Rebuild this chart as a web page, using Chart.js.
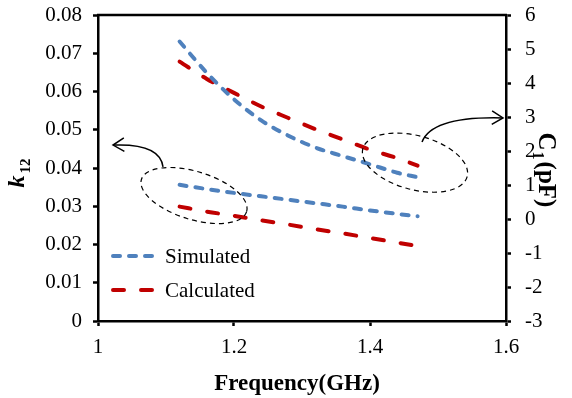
<!DOCTYPE html>
<html>
<head>
<meta charset="utf-8">
<script src="https://cdn.jsdelivr.net/npm/chart.js@4.4.1/dist/chart.umd.min.js"></script>
<style>
  html, body { margin: 0; padding: 0; background: #fff; }
  #wrap { width: 572px; height: 398px; }
</style>
</head>
<body>
<div id="wrap"><canvas id="chart"></canvas></div>
<script>
// values
var freq = [1.12, 1.16, 1.2, 1.24, 1.28, 1.32, 1.36, 1.4, 1.44, 1.47];
var k12Simulated = [0.0356, 0.0345, 0.0335, 0.0326, 0.0317, 0.0308, 0.0299, 0.0289, 0.0280, 0.0274];
var k12Calculated = [0.0299, 0.0286, 0.0275, 0.0263, 0.0252, 0.0240, 0.0229, 0.0217, 0.0205, 0.0196];
var c1Simulated = [5.22, 4.30, 3.52, 2.90, 2.45, 2.10, 1.85, 1.61, 1.36, 1.23];
var c1Calculated = [4.63, 4.12, 3.71, 3.31, 2.97, 2.64, 2.34, 2.04, 1.79, 1.57];

var xTickLabels = ['1', '1.2', '1.4', '1.6'];
var k12TickLabels = ['0', '0.01', '0.02', '0.03', '0.04', '0.05', '0.06', '0.07', '0.08'];
var c1TickLabels = ['-3', '-2', '-1', '0', '1', '2', '3', '4', '5', '6'];
var legendLabels = ['Simulated', 'Calculated'];

var BLUE = '#4F81BD';
var RED = '#C00000';
var SERIF = "'Liberation Serif', 'Times New Roman', serif";
var blueDash = [7, 9];
var redDash = [11, 17];

function pts(ys) {
  return freq.map(function (f, i) { return { x: f, y: ys[i] }; });
}

function line(data, color, dash, axis) {
  return {
    data: pts(data),
    yAxisID: axis,
    borderColor: color,
    backgroundColor: color,
    borderWidth: 4,
    borderDash: dash,
    borderCapStyle: 'round',
    pointRadius: 0,
    fill: false,
    cubicInterpolationMode: 'monotone'
  };
}

Chart.defaults.font.family = SERIF;
Chart.defaults.font.size = 21;
Chart.defaults.color = '#000';

// ellipses and arrows, anchored in data units (frequency, k12)
var ellipses = [
  { f: 1.1412, k: 0.0328, rx: 55, ry: 24, rot: 17 },
  { f: 1.4662, k: 0.0414, rx: 54, ry: 27, rot: 15 }
];
var arrows = [
  { from: [1.0956, 0.0403], ctrl: [1.0912, 0.0465], to: [1.0221, 0.0460] },
  { from: [1.4765, 0.0468], ctrl: [1.4912, 0.0536], to: [1.5956, 0.0531] }
];

var extras = {
  id: 'extras',
  afterDraw: function (chart) {
    var ctx = chart.ctx, a = chart.chartArea;
    var sx = chart.scales.x, sy = chart.scales.yL;
    ctx.save();

    // top frame line
    ctx.strokeStyle = '#000';
    ctx.lineWidth = 2.5;
    ctx.beginPath();
    ctx.moveTo(a.left - 1, a.top);
    ctx.lineTo(a.right + 1, a.top);
    ctx.stroke();

    // dashed ellipses
    ctx.lineWidth = 1.2;
    ctx.setLineDash([5, 4]);
    ellipses.forEach(function (e) {
      ctx.beginPath();
      ctx.ellipse(sx.getPixelForValue(e.f), sy.getPixelForValue(e.k), e.rx, e.ry, e.rot * Math.PI / 180, 0, Math.PI * 2);
      ctx.stroke();
    });

    // curved arrows
    ctx.setLineDash([]);
    ctx.lineWidth = 1.5;
    arrows.forEach(function (ar) {
      var x0 = sx.getPixelForValue(ar.from[0]), y0 = sy.getPixelForValue(ar.from[1]);
      var cx = sx.getPixelForValue(ar.ctrl[0]), cy = sy.getPixelForValue(ar.ctrl[1]);
      var x1 = sx.getPixelForValue(ar.to[0]), y1 = sy.getPixelForValue(ar.to[1]);
      ctx.beginPath();
      ctx.moveTo(x0, y0);
      ctx.quadraticCurveTo(cx, cy, x1, y1);
      ctx.stroke();
      var ang = Math.atan2(y1 - cy, x1 - cx);
      var L = 13, w = 0.55;
      ctx.beginPath();
      ctx.moveTo(x1 - L * Math.cos(ang - w), y1 - L * Math.sin(ang - w));
      ctx.lineTo(x1, y1);
      ctx.lineTo(x1 - L * Math.cos(ang + w), y1 - L * Math.sin(ang + w));
      ctx.stroke();
    });

    // legend
    var ds = chart.data.datasets;
    [0, 1].forEach(function (i) {
      var y = 256 + i * 34;
      ctx.strokeStyle = ds[i].borderColor;
      ctx.lineWidth = 4;
      ctx.lineCap = 'round';
      ctx.setLineDash(ds[i].borderDash);
      ctx.beginPath();
      ctx.moveTo(113, y);
      ctx.lineTo(i === 0 ? 156 : 166, y);
      ctx.stroke();
      ctx.setLineDash([]);
      ctx.fillStyle = '#000';
      ctx.font = '21px ' + SERIF;
      ctx.textBaseline = 'middle';
      ctx.textAlign = 'left';
      ctx.fillText(legendLabels[i], 165, y + 1);
    });

    // x title
    ctx.font = 'bold 23px ' + SERIF;
    ctx.textAlign = 'center';
    ctx.textBaseline = 'alphabetic';
    ctx.fillText('Frequency(GHz)', 297, 390);

    // left title k12
    ctx.save();
    ctx.translate(24, 173);
    ctx.rotate(-Math.PI / 2);
    ctx.textAlign = 'left';
    ctx.font = 'italic bold 24px ' + SERIF;
    var wk = ctx.measureText('k').width;
    ctx.font = 'bold 15px ' + SERIF;
    var ws = ctx.measureText('12').width;
    var start = -(wk + ws + 2) / 2;
    ctx.font = 'italic bold 24px ' + SERIF;
    ctx.fillText('k', start, 0);
    ctx.font = 'bold 15px ' + SERIF;
    ctx.fillText('12', start + wk + 2, 6);
    ctx.restore();

    // right title C1(pF)
    ctx.save();
    ctx.translate(539, 170);
    ctx.rotate(Math.PI / 2);
    ctx.textAlign = 'left';
    ctx.font = 'bold 25px ' + SERIF;
    var wc = ctx.measureText('C').width;
    var wp = ctx.measureText('(pF)').width;
    ctx.font = 'bold 16px ' + SERIF;
    var w1 = ctx.measureText('1').width;
    var s = -(wc + w1 + wp + 3) / 2;
    ctx.font = 'bold 25px ' + SERIF;
    ctx.fillText('C', s, 0);
    ctx.fillText('(pF)', s + wc + w1 + 3, 0);
    ctx.font = 'bold 16px ' + SERIF;
    ctx.fillText('1', s + wc + 1, 6);
    ctx.restore();

    ctx.restore();
  }
};

var axisGrid = {
  drawOnChartArea: false,
  drawTicks: true,
  tickLength: 5,
  tickWidth: 2.5,
  tickColor: '#000'
};
var axisBorder = { display: true, color: '#000', width: 2.5 };

function fixY(w) {
  return function (s) { s.width = w; s.paddingTop = 0; s.paddingBottom = 0; };
}

new Chart(document.getElementById('chart'), {
  type: 'line',
  data: {
    datasets: [
      line(k12Simulated, BLUE, blueDash, 'yL'),
      line(k12Calculated, RED, redDash, 'yL'),
      line(c1Simulated, BLUE, blueDash, 'yR'),
      line(c1Calculated, RED, redDash, 'yR')
    ]
  },
  options: {
    responsive: true,
    maintainAspectRatio: false,
    animation: false,
    layout: { padding: { top: 15, left: 0, right: 0, bottom: 0 } },
    plugins: { legend: { display: false }, tooltip: { enabled: false } },
    scales: {
      x: {
        type: 'linear',
        min: 1, max: 1.6,
        grid: axisGrid,
        border: axisBorder,
        ticks: {
          stepSize: 0.2, padding: 9, maxRotation: 0,
          callback: function (v, i) { return xTickLabels[i]; }
        },
        afterFit: function (s) { s.height = 77; s.paddingLeft = 0; s.paddingRight = 0; }
      },
      yL: {
        position: 'left',
        min: 0, max: 0.08,
        grid: axisGrid,
        border: axisBorder,
        ticks: {
          stepSize: 0.01, padding: 11,
          callback: function (v, i) { return k12TickLabels[i]; }
        },
        afterFit: fixY(98)
      },
      yR: {
        position: 'right',
        min: -3, max: 6,
        grid: axisGrid,
        border: axisBorder,
        ticks: {
          stepSize: 1, padding: 14,
          callback: function (v, i) { return c1TickLabels[i]; }
        },
        afterFit: fixY(66)
      }
    }
  },
  plugins: [extras]
});
</script>
</body>
</html>
